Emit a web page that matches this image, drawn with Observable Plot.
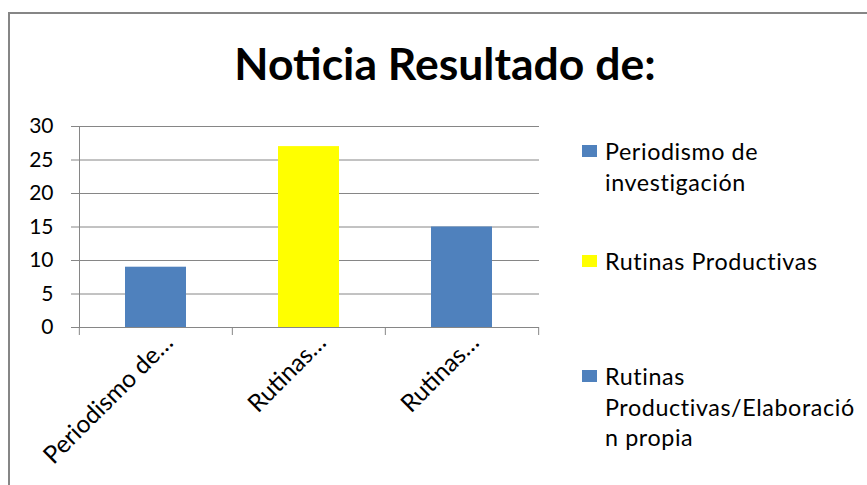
<!DOCTYPE html>
<html>
<head>
<meta charset="utf-8">
<script src="https://cdn.jsdelivr.net/npm/d3@7"></script>
<script src="https://cdn.jsdelivr.net/npm/@observablehq/plot@0.6"></script>
<style>
  html, body { margin: 0; padding: 0; background: #fff; }
  #wrap { position: relative; width: 867px; height: 485px; overflow: hidden; background: #fff; font-family: Lato, "Open Sans", sans-serif; color: #000; }
  #frame { position: absolute; left: 8px; top: 12px; width: 880px; height: 500px; border: 2px solid #868686; box-sizing: border-box; }
  #title { position: absolute; left: 445px; top: 39px; transform: translateX(-50%); font-size: 44.5px; font-weight: bold; white-space: nowrap; line-height: 48px; }
  #chart { position: absolute; left: 0; top: 0; }
  .lg { position: absolute; left: 582px; }
  .lg .sw { position: absolute; left: 0; width: 15px; height: 12px; }
  .lg .tx { position: absolute; left: 23px; top: 0; font-size: 23.3px; letter-spacing: 0.6px; line-height: 30.7px; white-space: nowrap; }
</style>
</head>
<body>
<div id="wrap">
  <div id="frame"></div>
  <div id="title"></div>
  <div id="chart"></div>
</div>
<script>
const chartTitle = "Noticia Resultado de:";
const categories = ["Periodismo de investigación", "Rutinas Productivas", "Rutinas Productivas/Elaboración propia"];
const tickLabels = ["Periodismo de…", "Rutinas…", "Rutinas…"];
const values = [9, 27, 15];
const colors = ["#4f81bd", "#ffff00", "#4f81bd"];
const yTicks = [0, 5, 10, 15, 20, 25, 30];
const legendLines = [
  ["Periodismo de", "investigación"],
  ["Rutinas Productivas"],
  ["Rutinas", "Productivas/Elaboració", "n propia"]
];
const legendTops = [136, 246, 361];

document.getElementById("title").textContent = chartTitle;

const data = categories.map((c, i) => ({cat: c, value: values[i], color: colors[i]}));

const W = 560, H = 485, ML = 79, MR = 21, MT = 126, MB = 158;
const step = (W - ML - MR) / categories.length;
const axisColor = "#868686";

const plot = Plot.plot({
  width: W, height: H,
  marginLeft: ML, marginRight: MR, marginTop: MT, marginBottom: MB,
  style: {fontFamily: "Lato, 'Open Sans', sans-serif", fontSize: "21px", color: "#000", background: "transparent", overflow: "visible"},
  x: {domain: categories, paddingInner: 0.6, paddingOuter: 0.3, axis: null},
  y: {domain: [0, 30], axis: null},
  marks: [
    Plot.gridY(yTicks, {stroke: axisColor, strokeOpacity: 1, strokeWidth: 1}),
    Plot.barY(data, {x: "cat", y: "value", fill: "color"}),
    Plot.axisY(yTicks, {tickSize: 8, tickPadding: 18, stroke: axisColor, strokeOpacity: 1, fill: "#000", fontSize: 21, label: null}),
    Plot.frame({anchor: "left", stroke: axisColor, strokeOpacity: 1}),
    Plot.ruleY([0], {stroke: axisColor}),
    Plot.axisX(categories, {tickSize: 8, dx: -step / 2, tickFormat: () => "", stroke: axisColor, strokeOpacity: 1, label: null}),
    Plot.axisX([categories[categories.length - 1]], {tickSize: 8, dx: step / 2, tickFormat: () => "", stroke: axisColor, strokeOpacity: 1, label: null}),
    Plot.axisX(categories, {tickSize: 0, tickRotate: -45, tickPadding: 11, dx: 13, fontSize: 24.5, fill: "#000",
      tickFormat: d => tickLabels[categories.indexOf(d)], label: null})
  ]
});
document.getElementById("chart").appendChild(plot);

const wrap = document.getElementById("wrap");
legendLines.forEach((lines, i) => {
  const g = document.createElement("div");
  g.className = "lg";
  g.style.top = legendTops[i] + "px";
  const sw = document.createElement("div");
  sw.className = "sw";
  sw.style.background = colors[i];
  sw.style.top = "9px";
  const tx = document.createElement("div");
  tx.className = "tx";
  tx.innerHTML = lines.map(l => l.replace(/&/g, "&amp;").replace(/</g, "&lt;")).join("<br>");
  g.appendChild(sw);
  g.appendChild(tx);
  wrap.appendChild(g);
});
</script>
</body>
</html>
